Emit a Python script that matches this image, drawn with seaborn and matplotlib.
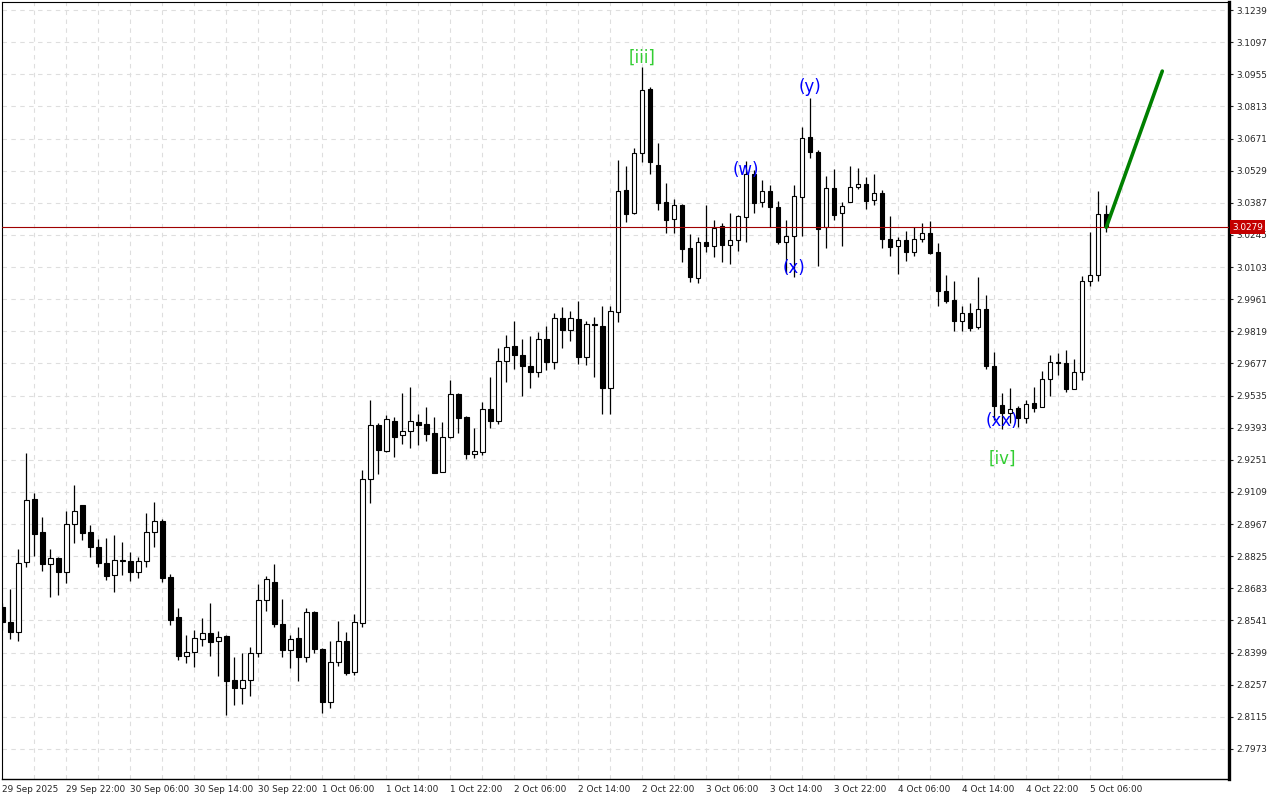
import numpy as np
import pandas as pd
import seaborn as sns
import matplotlib
matplotlib.use("Agg")
import matplotlib.pyplot as plt
import matplotlib.transforms as mtransforms

# H1 candles, 29 Sep 14:00 -> 5 Oct 08:00
opens = [2.8600, 2.8535, 2.8489, 2.8798, 2.9077, 2.8931, 2.8789, 2.8817, 2.8754, 2.8966,
         2.9050, 2.8931, 2.8864, 2.8794, 2.8741, 2.8806, 2.8802, 2.8754, 2.8802, 2.8931,
         2.8979, 2.8732, 2.8555, 2.8385, 2.8400, 2.8458, 2.8484, 2.8449, 2.8472, 2.8276,
         2.8241, 2.8276, 2.8396, 2.8630, 2.8710, 2.8524, 2.8409, 2.8462, 2.8378, 2.8577,
         2.8414, 2.8182, 2.8356, 2.8449, 2.8315, 2.8528, 2.9165, 2.9404, 2.9291, 2.9421,
         2.9359, 2.9377, 2.9417, 2.9408, 2.9368, 2.9199, 2.9351, 2.9541, 2.9439, 2.9278,
         2.9287, 2.9474, 2.9421, 2.9686, 2.9753, 2.9713, 2.9664, 2.9638, 2.9784, 2.9682,
         2.9877, 2.9823, 2.9872, 2.9704, 2.9850, 2.9841, 2.9567, 2.9906, 3.0444, 3.0341,
         3.0606, 3.0890, 3.0553, 3.0389, 3.0314, 3.0379, 3.0186, 3.0053, 3.0212, 3.0195,
         3.0283, 3.0199, 3.0221, 3.0323, 3.0513, 3.0389, 3.0438, 3.0367, 3.0212, 3.0239,
         3.0411, 3.0678, 3.0611, 3.0278, 3.0451, 3.0341, 3.0389, 3.0456, 3.0469, 3.0398,
         3.0429, 3.0228, 3.0195, 3.0221, 3.0168, 3.0228, 3.0255, 3.0168, 2.9996, 2.9956,
         2.9863, 2.9899, 2.9837, 2.9916, 2.9664, 2.9492, 2.9457, 2.9479, 2.9435, 2.9501,
         2.9483, 2.9607, 2.9682, 2.9678, 2.9563, 2.9638, 3.0040, 3.0067, 3.0336]
highs = [2.8618, 2.8680, 2.8857, 2.9280, 2.9106, 2.8997, 2.8857, 2.8820, 2.9025, 2.9140,
         2.9052, 2.8962, 2.8901, 2.8904, 2.8917, 2.8886, 2.8845, 2.8820, 2.9015, 2.9063,
         2.8991, 2.8745, 2.8595, 2.8475, 2.8499, 2.8552, 2.8618, 2.8494, 2.8475, 2.8378,
         2.8396, 2.8422, 2.8702, 2.8737, 2.8791, 2.8636, 2.8475, 2.8511, 2.8595, 2.8581,
         2.8418, 2.8449, 2.8539, 2.8489, 2.8568, 2.9206, 2.9515, 2.9415, 2.9449, 2.9439,
         2.9545, 2.9572, 2.9452, 2.9484, 2.9440, 2.9417, 2.9604, 2.9545, 2.9443, 2.9393,
         2.9505, 2.9616, 2.9744, 2.9803, 2.9863, 2.9784, 2.9797, 2.9815, 2.9841, 2.9899,
         2.9925, 2.9907, 2.9952, 2.9863, 2.9881, 2.9930, 2.9930, 3.0576, 3.0550, 3.0629,
         3.0989, 3.0900, 3.0650, 3.0473, 3.0402, 3.0381, 3.0248, 3.0235, 3.0376, 3.0310,
         3.0298, 3.0341, 3.0334, 3.0570, 3.0531, 3.0486, 3.0464, 3.0394, 3.0310, 3.0464,
         3.0721, 3.0850, 3.0620, 3.0505, 3.0535, 3.0391, 3.0550, 3.0540, 3.0500, 3.0513,
         3.0442, 3.0327, 3.0235, 3.0261, 3.0279, 3.0296, 3.0305, 3.0208, 3.0067, 3.0040,
         2.9930, 2.9943, 3.0058, 2.9978, 2.9726, 2.9545, 2.9567, 2.9488, 2.9514, 2.9572,
         2.9642, 2.9713, 2.9722, 2.9735, 2.9695, 3.0062, 3.0257, 3.0439, 3.0377]
lows = [2.8499, 2.8458, 2.8449, 2.8779, 2.8827, 2.8761, 2.8646, 2.8654, 2.8708, 2.8885,
        2.8898, 2.8823, 2.8779, 2.8721, 2.8668, 2.8743, 2.8717, 2.8730, 2.8779, 2.8867,
        2.8712, 2.8522, 2.8366, 2.8354, 2.8337, 2.8428, 2.8385, 2.8297, 2.8124, 2.8169,
        2.8173, 2.8208, 2.8378, 2.8581, 2.8511, 2.8378, 2.8332, 2.8275, 2.8356, 2.8396,
        2.8133, 2.8155, 2.8341, 2.8301, 2.8301, 2.8511, 2.9061, 2.9190, 2.9287, 2.9265,
        2.9322, 2.9305, 2.9317, 2.9336, 2.9191, 2.9197, 2.9346, 2.9371, 2.9256, 2.9260,
        2.9274, 2.9390, 2.9408, 2.9594, 2.9651, 2.9532, 2.9567, 2.9616, 2.9647, 2.9651,
        2.9744, 2.9775, 2.9673, 2.9669, 2.9616, 2.9452, 2.9452, 2.9859, 3.0303, 3.0339,
        3.0569, 3.0513, 3.0354, 3.0252, 3.0252, 3.0124, 3.0038, 3.0031, 3.0168, 3.0149,
        3.0127, 3.0115, 3.0175, 3.0212, 3.0341, 3.0370, 3.0281, 3.0204, 3.0075, 3.0060,
        3.0242, 3.0584, 3.0108, 3.0189, 3.0310, 3.0197, 3.0389, 3.0447, 3.0358, 3.0376,
        3.0189, 3.0153, 3.0074, 3.0131, 3.0153, 3.0215, 3.0162, 2.9930, 2.9943, 2.9819,
        2.9819, 2.9819, 2.9828, 2.9651, 2.9427, 2.9386, 2.9412, 2.9397, 2.9415, 2.9461,
        2.9483, 2.9532, 2.9625, 2.9549, 2.9563, 2.9602, 3.0018, 3.0040, 3.0259]
closes = [2.8534, 2.8489, 2.8796, 2.9072, 2.8924, 2.8789, 2.8816, 2.8754, 2.8966, 2.9023,
          2.8929, 2.8864, 2.8794, 2.8739, 2.8807, 2.8808, 2.8754, 2.8802, 2.8931, 2.8979,
          2.8730, 2.8544, 2.8385, 2.8400, 2.8462, 2.8484, 2.8447, 2.8467, 2.8275, 2.8241,
          2.8276, 2.8396, 2.8630, 2.8723, 2.8524, 2.8409, 2.8458, 2.8378, 2.8577, 2.8414,
          2.8182, 2.8356, 2.8449, 2.8310, 2.8533, 2.9165, 2.9404, 2.9293, 2.9430, 2.9353,
          2.9377, 2.9421, 2.9406, 2.9366, 2.9194, 2.9351, 2.9541, 2.9435, 2.9278, 2.9291,
          2.9474, 2.9421, 2.9686, 2.9748, 2.9713, 2.9664, 2.9638, 2.9784, 2.9682, 2.9877,
          2.9823, 2.9877, 2.9704, 2.9850, 2.9846, 2.9567, 2.9907, 3.0439, 3.0336, 3.0606,
          3.0884, 3.0569, 3.0387, 3.0310, 3.0376, 3.0184, 3.0058, 3.0212, 3.0195, 3.0277,
          3.0199, 3.0221, 3.0327, 3.0513, 3.0387, 3.0438, 3.0367, 3.0212, 3.0239, 3.0416,
          3.0672, 3.0613, 3.0273, 3.0451, 3.0334, 3.0372, 3.0456, 3.0469, 3.0394, 3.0429,
          3.0228, 3.0193, 3.0221, 3.0168, 3.0228, 3.0255, 3.0166, 2.9996, 2.9952, 2.9863,
          2.9899, 2.9832, 2.9916, 2.9664, 2.9488, 2.9457, 2.9477, 2.9435, 2.9496, 2.9479,
          2.9607, 2.9682, 2.9678, 2.9563, 2.9638, 3.0040, 3.0067, 3.0336, 3.0279]

last_price = 3.0279

x_labels = ["29 Sep 2025", "29 Sep 22:00", "30 Sep 06:00", "30 Sep 14:00", "30 Sep 22:00",
            "1 Oct 06:00", "1 Oct 14:00", "1 Oct 22:00", "2 Oct 06:00", "2 Oct 14:00",
            "2 Oct 22:00", "3 Oct 06:00", "3 Oct 14:00", "3 Oct 22:00", "4 Oct 06:00",
            "4 Oct 14:00", "4 Oct 22:00", "5 Oct 06:00"]
price_ticks = [2.7973, 2.8115, 2.8257, 2.8399, 2.8541, 2.8683, 2.8825, 2.8967, 2.9109,
               2.9251, 2.9393, 2.9535, 2.9677, 2.9819, 2.9961, 3.0103, 3.0245, 3.0387,
               3.0529, 3.0671, 3.0813, 3.0955, 3.1097, 3.1239]

# wave marks
wave_text = ["[iii]", "(w)", "(x)", "(y)", "(xx)", "[iv]"]
wave_bar = [80, 93, 99, 101, 125, 125]
wave_price = [3.1027, 3.0534, 3.0099, 3.0897, 2.9424, 2.9255]
wave_color = ["#32cd32", "#0000ff", "#0000ff", "#0000ff", "#0000ff", "#32cd32"]

# projected move
proj_bar = [138, 145]
proj_price = [3.0279, 3.0969]

sns.set_style("white")
plt.rcParams['font.family'] = ['DejaVu Sans']

df = pd.DataFrame({"o": opens, "h": highs, "l": lows, "c": closes})
df["x"] = np.arange(len(df))
up = df["c"] >= df["o"]

fig = plt.figure(figsize=(12.8, 8), dpi=100)
ax = fig.add_axes([2 / 1280, 21 / 800, 1227 / 1280, 777 / 800])

ax.vlines(df["x"], df["l"], df["h"], color="black", lw=0.9, zorder=2)
ax.bar(df["x"], (df["c"] - df["o"]).abs(), bottom=df[["o", "c"]].min(axis=1),
       width=0.55, color=np.where(up, "white", "black"), edgecolor="black",
       linewidth=0.8, zorder=3)

ax.axhline(last_price, color="#a00000", lw=0.8, zorder=4)

sns.lineplot(x=proj_bar, y=proj_price, ax=ax, color="#008000", lw=2.6, zorder=5)

for t, b, p, col in zip(wave_text, wave_bar, wave_price, wave_color):
    ax.text(b, p, t, ha="center", va="center", fontsize=12, color=col, zorder=6)

ax.set_xlim(-0.04, 153.34)
ax.set_ylim(2.78403, 3.12744)

ax.set_xticks(np.arange(0, len(x_labels) * 8, 8))
ax.set_xticks(np.arange(4, len(x_labels) * 8, 8), minor=True)
ax.set_xticklabels(x_labels, ha="left", fontsize=6.4)
ax.set_yticks(price_ticks)
ax.set_yticklabels([f"{v:.4f}" for v in price_ticks], fontsize=6.4)
ax.yaxis.tick_right()
ax.tick_params(axis="x", which="major", direction="out", length=3, width=0.8, pad=1.5)
ax.tick_params(axis="x", which="minor", length=0)
ax.tick_params(axis="y", direction="out", length=3, width=0.8, pad=2)

grid_kw = dict(color="#dedede", lw=0.8, ls=(0, (4, 4)))
ax.xaxis.grid(True, which="both", **grid_kw)
ax.yaxis.grid(True, which="major", **grid_kw)
ax.set_axisbelow(True)

for side, w in [("left", 0.8), ("top", 0.8), ("bottom", 1.0), ("right", 2.4)]:
    ax.spines[side].set_visible(True)
    ax.spines[side].set_color("black")
    ax.spines[side].set_linewidth(w)

tr = mtransforms.blended_transform_factory(ax.transAxes, ax.transData)
ax.text(1.0025, last_price, f"{last_price:.4f}", transform=tr, ha="left", va="center",
        fontsize=6.4, color="white", zorder=10, clip_on=False,
        bbox=dict(boxstyle="square,pad=0.25", fc="#c40000", ec="none"))

ax.set_xlabel("")
ax.set_ylabel("")
fig.savefig("out.png", dpi=100)
